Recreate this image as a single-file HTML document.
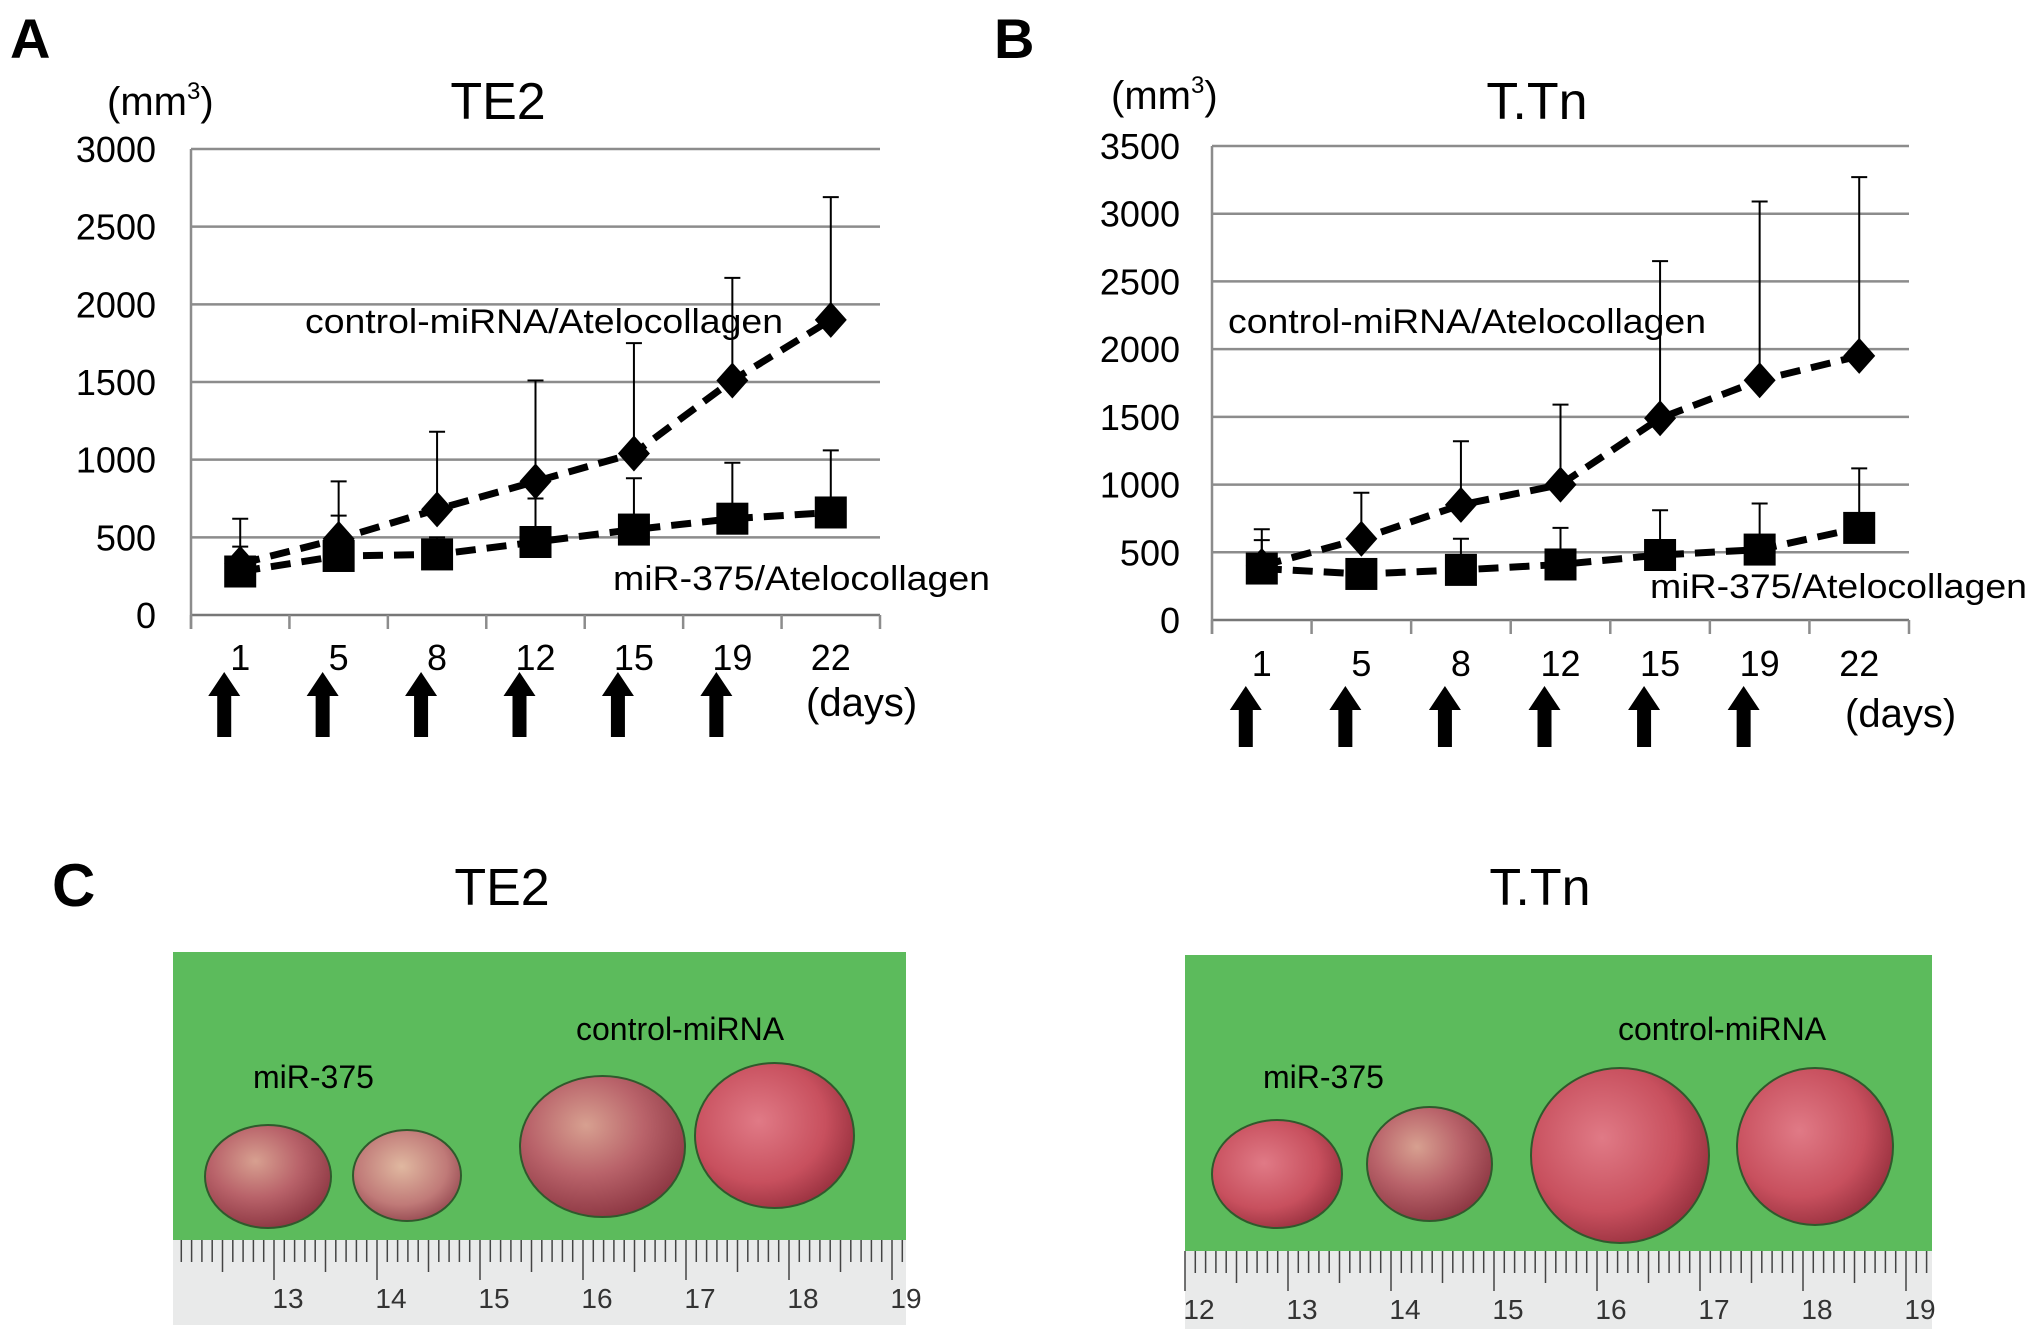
<!DOCTYPE html>
<html><head><meta charset="utf-8"><style>
html,body{margin:0;padding:0;background:#fff;}
svg{display:block;font-family:"Liberation Sans",sans-serif;}
</style></head><body>
<svg id="fig" width="2031" height="1338" viewBox="0 0 2031 1338" xmlns="http://www.w3.org/2000/svg">
<defs>
<radialGradient id="tum" cx="0.4" cy="0.35" r="0.7"><stop offset="0" stop-color="#d7a090"/><stop offset="0.5" stop-color="#b9636a"/><stop offset="1" stop-color="#8a3440"/></radialGradient>
<radialGradient id="tum2" cx="0.45" cy="0.4" r="0.7"><stop offset="0" stop-color="#e0b8a0"/><stop offset="0.6" stop-color="#c07a78"/><stop offset="1" stop-color="#883a45"/></radialGradient>
<radialGradient id="tum3" cx="0.4" cy="0.4" r="0.7"><stop offset="0" stop-color="#e07a86"/><stop offset="0.6" stop-color="#c8505e"/><stop offset="1" stop-color="#8e2a38"/></radialGradient>
</defs>
<text x="10" y="58" font-size="56" font-weight="bold">A</text>
<text x="994" y="58" font-size="56" font-weight="bold">B</text>
<text x="52" y="906" font-size="60" font-weight="bold">C</text>
<g id="chartA"></g>
<g id="chartB"></g>
<g id="photos"></g>
</svg>
<script>
const days = ["1","5","8","12","15","19","22"];
const ticksA = [0,500,1000,1500,2000,2500,3000];
const ticksB = [0,500,1000,1500,2000,2500,3000,3500];
const ctrlA = [330,490,680,860,1040,1510,1900];
const ctrlErrA = [620,860,1180,1510,1750,2170,2690];
const mirA = [280,380,390,470,550,620,660];
const mirErrA = [440,640,500,750,880,980,1060];
const ctrlB = [400,600,850,1000,1490,1770,1950];
const ctrlErrB = [670,940,1320,1590,2650,3090,3270];
const mirB = [380,340,370,410,480,520,680];
const mirErrB = [590,340,600,680,810,860,1120];

const NS="http://www.w3.org/2000/svg";
function mk(parent,tag,attrs,text){const e=document.createElementNS(NS,tag);for(const k in attrs)e.setAttribute(k,attrs[k]);if(text!==undefined)e.textContent=text;parent.appendChild(e);return e;}

function chart(g,cfg){
  const {L,R,T,B,max,ticks,ctrl,ctrlErr,mir,mirErr}=cfg;
  const y=v=>B-(v/max)*(B-T);
  const bw=(R-L)/days.length;
  const x=i=>L+bw*(i+0.5);
  ticks.forEach(t=>{
    const l=mk(g,'line',{x1:L,x2:R,y1:y(t),y2:y(t),stroke:t===0?'#777':'#8c8c8c','stroke-width':2.5});
    
    
    const tx=mk(g,'text',{x:cfg.labR,y:y(t)+13,'font-size':36,'text-anchor':'end'},String(t));
    
    
  });
  const ax=mk(g,'line',{x1:L,x2:L,y1:T,y2:B+14,stroke:'#8c8c8c','stroke-width':2.5});
  
  
  for(let i=0;i<=days.length;i++){
    const tk=mk(g,'line',{x1:L+bw*i,x2:L+bw*i,y1:B,y2:B+14,stroke:'#8c8c8c','stroke-width':2.5});
    
    
  }
  days.forEach((d,i)=>{
    const t=mk(g,'text',{x:x(i),y:cfg.tickY,'font-size':36,'text-anchor':'middle'},d);
    
    
    if(i<6){
      const ax0=x(i)-16;
      const a=mk(g,'path',{d:`M${ax0-7},${cfg.arT+24} L${ax0-16},${cfg.arT+24} L${ax0},${cfg.arT} L${ax0+16},${cfg.arT+24} L${ax0+7},${cfg.arT+24} L${ax0+7},${cfg.arB} L${ax0-7},${cfg.arB} Z`,fill:'#000'});
      
      
    }
  });
  function series(vals,errs,name,shape){
    vals.forEach((v,i)=>{
      const e=mk(g,'path',{d:`M${x(i)},${y(v)} V${y(errs[i])} M${x(i)-8},${y(errs[i])} H${x(i)+8}`,stroke:'#000','stroke-width':2,fill:'none'});
      
      
    });
    const p=mk(g,'polyline',{points:vals.map((v,i)=>x(i)+','+y(v)).join(' '),fill:'none',stroke:'#000','stroke-width':7,'stroke-dasharray':'20 11'});
    
    
    vals.forEach((v,i)=>{
      const cx=x(i),cy=y(v);
      let m;
      if(shape==='d') m=mk(g,'path',{d:`M${cx},${cy-18} L${cx+16},${cy} L${cx},${cy+18} L${cx-16},${cy} Z`,fill:'#000'});
      else m=mk(g,'rect',{x:cx-16,y:cy-16,width:32,height:32,fill:'#000'});
      
      
    });
  }
  series(mir,mirErr,'mir375','s');
  series(ctrl,ctrlErr,'control','d');
  const t1=mk(g,'text',{x:cfg.cL[0],y:cfg.cL[1],'font-size':34,textLength:cfg.cL[2],lengthAdjust:'spacingAndGlyphs'},'control-miRNA/Atelocollagen');
  
  
  const t2=mk(g,'text',{x:cfg.mL[0],y:cfg.mL[1],'font-size':34,textLength:cfg.mL[2],lengthAdjust:'spacingAndGlyphs'},'miR-375/Atelocollagen');
  
  
  const ti=mk(g,'text',{x:cfg.title[0],y:cfg.title[1],'font-size':52,'text-anchor':'middle'},cfg.titleText);
  
  
  const u=mk(g,'text',{x:cfg.unit[0],y:cfg.unit[1],'font-size':40},'(mm');
  
  
  mk(u,'tspan',{'font-size':24,dy:-16},'3');
  mk(u,'tspan',{dy:16},')');
  const dl=mk(g,'text',{x:cfg.daysL[0],y:cfg.daysL[1],'font-size':40},'(days)');
  
  
}
chart(document.getElementById('chartA'),{L:191,R:880,T:149,B:615,max:3000,ticks:ticksA,ctrl:ctrlA,ctrlErr:ctrlErrA,mir:mirA,mirErr:mirErrA,labR:156,tickY:670,arT:672,arB:737,cL:[305,333,478],mL:[613,590,377],title:[498,119],titleText:'TE2',unit:[107,115],daysL:[806,716]});
chart(document.getElementById('chartB'),{L:1212,R:1909,T:146,B:620,max:3500,ticks:ticksB,ctrl:ctrlB,ctrlErr:ctrlErrB,mir:mirB,mirErr:mirErrB,labR:1180,tickY:676,arT:686,arB:747,cL:[1228,333,478],mL:[1650,598,377],title:[1537,119],titleText:'T.Tn',unit:[1111,109],daysL:[1845,727]});

const P=document.getElementById('photos');
function photo(x0,w,top,rulerTop,bot,title,titleX,tumors,mirL,ctrlL,firstCm){
  const t=mk(P,'text',{x:titleX,y:905,'font-size':52,'text-anchor':'middle'},title);
  
  
  const g=mk(P,'rect',{x:x0,y:top,width:w,height:rulerTop-top,fill:'#5cbb5c'});
  
  
  const r=mk(P,'rect',{x:x0,y:rulerTop,width:w,height:bot-rulerTop,fill:'#e9eaea'});
  
  
  const step=10.3;
  for(let k=0;x0+firstCm+k*step<x0+w;k++){
    const xx=x0+firstCm+k*step;
    if(xx<x0) continue;
    const len=(k%10===0)?40:(k%5===0?32:22);
    mk(P,'line',{x1:xx,x2:xx,y1:rulerTop,y2:rulerTop+len,stroke:'#444','stroke-width':1.5});
    if(k%10===0){
      const n=mk(P,'text',{x:xx+14,y:rulerTop+68,'font-size':28,'text-anchor':'middle',fill:'#333'},String(12+k/10));
      
      
    }
  }
  tumors.forEach(tm=>{
    const e=mk(P,'ellipse',{cx:(tm[0]+tm[1])/2,cy:(tm[2]+tm[3])/2,rx:(tm[1]-tm[0])/2,ry:(tm[3]-tm[2])/2,fill:tm[4],stroke:'#2f5a2c','stroke-width':2});
    
    
  });
  const a=mk(P,'text',{x:mirL[0],y:mirL[1],'font-size':32},'miR-375');
  
  
  const b=mk(P,'text',{x:ctrlL[0],y:ctrlL[1],'font-size':32},'control-miRNA');
  
  
}
photo(173,733,952,1240,1325,'TE2',502,[[205,331,1125,1228,'url(#tum)'],[353,461,1130,1221,'url(#tum2)'],[520,685,1076,1217,'url(#tum)'],[695,854,1063,1208,'url(#tum3)']],[253,1088],[576,1040],-2);
photo(1185,747,955,1251,1329,'T.Tn',1540,[[1212,1342,1120,1228,'url(#tum3)'],[1367,1492,1107,1221,'url(#tum)'],[1531,1709,1068,1243,'url(#tum3)'],[1737,1893,1068,1225,'url(#tum3)']],[1263,1088],[1618,1040],0);
</script>
</body></html>
